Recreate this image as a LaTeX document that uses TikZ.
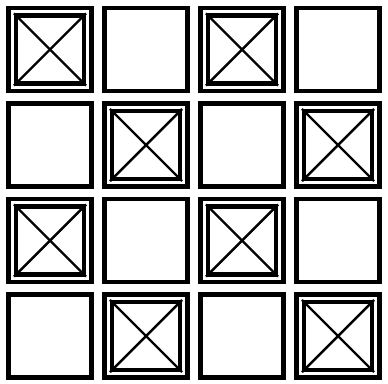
\documentclass[tikz,border=0pt]{standalone}
\usepackage{tikz}
\usetikzlibrary{positioning}

\begin{document}
\begin{tikzpicture}[
        x=0.02cm, y=-0.02cm,
        cell/.style={rectangle, draw=black, line width=2.8pt, minimum size=1.66cm, inner sep=0pt},
        crossbox/.style={rectangle, draw=black, line width=2.3pt, minimum size=1.36cm, inner sep=0pt},
        diag/.style={draw=black, line width=1.4pt}
    ]
        \useasboundingbox (0,0) rectangle (388,383);

        % Grid of cells
        \foreach \r in {0,...,3} {
            \foreach \c in {0,...,3} {
                \node[cell] (cell-\r-\c) at ({50+96*\c},{49.5+95.5*\r}) {};
            }
        }

        % Crossed inner boxes
        \foreach \r/\c in {0/0,0/2,1/1,1/3,2/0,2/2,3/1,3/3} {
            \node[crossbox] (box-\r-\c) at (cell-\r-\c) {};
            \draw[diag] (box-\r-\c.north west) -- (box-\r-\c.south east);
            \draw[diag] (box-\r-\c.north east) -- (box-\r-\c.south west);
        }
    \end{tikzpicture}
\end{document}
